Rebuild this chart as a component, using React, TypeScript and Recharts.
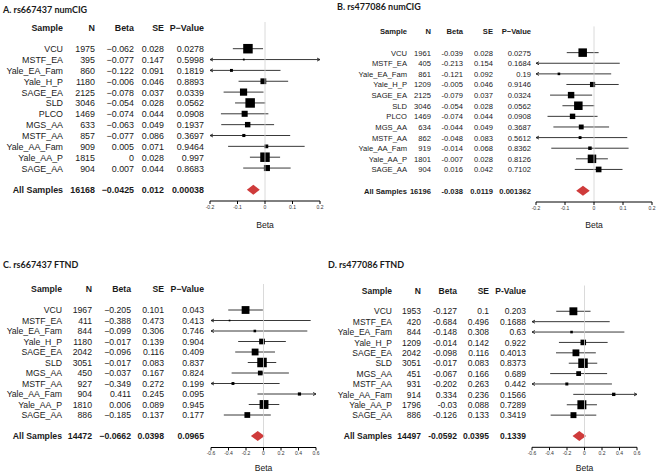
import React from "react";
import {
  ComposedChart,
  Bar,
  XAxis,
  YAxis,
  ReferenceLine,
} from "recharts";

// study names
const namesNumCig = [
  "VCU", "MSTF_EA", "Yale_EA_Fam", "Yale_H_P", "SAGE_EA", "SLD", "PLCO",
  "MGS_AA", "MSTF_AA", "Yale_AA_Fam", "Yale_AA_P", "SAGE_AA",
];
const namesFtnd = [
  "VCU", "MSTF_EA", "Yale_EA_Fam", "Yale_H_P", "SAGE_EA", "SLD",
  "MGS_AA", "MSTF_AA", "Yale_AA_Fam", "Yale_AA_P", "SAGE_AA",
];

// A. rs667437 numCIG
const aN = [1975, 395, 860, 1180, 2125, 3046, 1469, 633, 857, 909, 1815, 904];
const aBeta = [-0.062, -0.077, -0.122, -0.006, -0.078, -0.054, -0.074, -0.063, -0.077, 0.005, 0, 0.007];
const aSe = [0.028, 0.147, 0.091, 0.046, 0.037, 0.028, 0.044, 0.049, 0.086, 0.071, 0.028, 0.044];
const aP = [0.0278, 0.5998, 0.1819, 0.8893, 0.0339, 0.0562, 0.0908, 0.1937, 0.3697, 0.9464, 0.997, 0.8683];
const aAll = [16168, -0.0425, 0.012, 0.00038];

// B. rs477086 numCIG
const bN = [1961, 405, 861, 1209, 2125, 3046, 1469, 634, 862, 919, 1801, 904];
const bBeta = [-0.039, -0.213, -0.121, -0.005, -0.079, -0.054, -0.074, -0.044, -0.048, -0.014, -0.007, 0.016];
const bSe = [0.028, 0.154, 0.092, 0.046, 0.037, 0.028, 0.044, 0.049, 0.083, 0.068, 0.028, 0.042];
const bP = [0.0275, 0.1684, 0.19, 0.9146, 0.0324, 0.0562, 0.0908, 0.3687, 0.5612, 0.8362, 0.8126, 0.7102];
const bAll = [16196, -0.038, 0.0119, 0.001362];

// C. rs667437 FTND
const cN = [1967, 411, 844, 1180, 2042, 3051, 450, 927, 904, 1810, 886];
const cBeta = [-0.205, -0.388, -0.099, -0.017, -0.096, -0.017, -0.037, -0.349, 0.411, 0.006, -0.185];
const cSe = [0.101, 0.473, 0.306, 0.139, 0.116, 0.083, 0.167, 0.272, 0.245, 0.089, 0.137];
const cP = [0.043, 0.413, 0.746, 0.904, 0.409, 0.837, 0.824, 0.199, 0.095, 0.945, 0.177];
const cAll = [14472, -0.0662, 0.0398, 0.0965];

// D. rs477086 FTND
const dN = [1953, 420, 844, 1209, 2042, 3051, 451, 931, 914, 1796, 886];
const dBeta = [-0.127, -0.684, -0.148, -0.014, -0.098, -0.017, -0.067, -0.202, 0.334, -0.03, -0.126];
const dSe = [0.1, 0.496, 0.308, 0.142, 0.116, 0.083, 0.166, 0.263, 0.236, 0.088, 0.133];
const dP = [0.203, 0.1688, 0.63, 0.922, 0.4013, 0.8373, 0.689, 0.442, 0.1566, 0.7289, 0.3419];
const dAll = [14497, -0.0592, 0.0395, 0.1339];

const ticksSmall = [-0.2, -0.1, 0, 0.1, 0.2];
const ticksWide = [-0.6, -0.4, -0.2, 0, 0.2, 0.4, 0.6];

const FONT = "'Liberation Sans', Arial, sans-serif";

function buildRows(names, n, beta, se, p, all, lim) {
  const rows: any[] = [{ key: "hdr", kind: "hdr", ci: null }, { key: "gap1", ci: null }];
  names.forEach((name, i) => {
    const lo = beta[i] - 1.96 * se[i];
    const hi = beta[i] + 1.96 * se[i];
    rows.push({
      key: name,
      kind: "study",
      name,
      n: n[i],
      beta: beta[i],
      se: se[i],
      p: p[i],
      ci: [Math.max(lo, -lim), Math.min(hi, lim)],
      clipLo: lo < -lim,
      clipHi: hi > lim,
    });
  });
  rows.push({ key: "gap2", ci: null });
  rows.push({
    key: "All Samples",
    kind: "all",
    name: "All Samples",
    n: all[0],
    beta: all[1],
    se: all[2],
    p: all[3],
    ci: [all[1] - 1.96 * all[2], all[1] + 1.96 * all[2]],
  });
  return rows;
}

const panels = [
  {
    title: "A. rs667437 numCIG", left: 0, top: 0, titleX: 3, titleY: 4,
    rows: buildRows(namesNumCig, aN, aBeta, aSe, aP, aAll, 0.2),
    minSe: Math.min(...aSe), lim: 0.2, ticks: ticksSmall,
    cols: [63, 95, 134, 164, 204], fs: 8.9, minus: "\u2212", pHead: "P\u2212Value",
    plotLeft: 210, plotW: 110, width: 330, height: 235, mTop: 22, padBottom: 5.4, xH: 30, mBottom: 4,
    maxSide: 9.5, labelOff: 3.5,
  },
  {
    title: "B. rs477086 numCIG", left: 330, top: 0, titleX: 7, titleY: 1,
    rows: buildRows(namesNumCig, bN, bBeta, bSe, bP, bAll, 0.2),
    minSe: Math.min(...bSe), lim: 0.2, ticks: ticksSmall,
    cols: [77, 101, 133, 163, 201], fs: 7.6, minus: "-", pHead: "P\u2212Value",
    plotLeft: 206, plotW: 116, width: 330, height: 235, mTop: 26.4, padBottom: 5.7, xH: 29, mBottom: 4,
    maxSide: 8.5, labelOff: 3.5,
  },
  {
    title: "C. rs667437 FTND", left: 0, top: 240, titleX: 3, titleY: 19,
    rows: buildRows(namesFtnd, cN, cBeta, cSe, cP, cAll, 0.6),
    minSe: Math.min(...cSe), lim: 0.6, ticks: ticksWide,
    cols: [62, 92, 131, 164, 204], fs: 8.7, minus: "\u2212", pHead: "P\u2212Value",
    plotLeft: 211, plotW: 105, width: 330, height: 234, mTop: 44, padBottom: 6, xH: 26.5, mBottom: 0,
    maxSide: 9.5, labelOff: 3.5,
  },
  {
    title: "D. rs477086 FTND", left: 330, top: 240, titleX: -2, titleY: 19,
    rows: buildRows(namesFtnd, dN, dBeta, dSe, dP, dAll, 0.6),
    minSe: Math.min(...dSe), lim: 0.6, ticks: ticksWide,
    cols: [62, 91, 127, 159, 196], fs: 8.5, minus: "-", pHead: "P-Value",
    plotLeft: 202, plotW: 105, width: 330, height: 234, mTop: 45.5, padBottom: 6, xH: 26.7, mBottom: 0,
    maxSide: 9.5, labelOff: 3.5,
  },
];

function ForestShape(props) {
  const { x, y, width, height, payload, cfg } = props;
  if (!payload || !payload.kind || !payload.ci) return null;
  const cy = y + height / 2;
  const [lo, hi] = payload.ci;
  const px = (v) => x + ((v - lo) / (hi - lo)) * width;
  if (payload.kind === "all") {
    const bx = px(payload.beta);
    return (
      <polygon
        points={`${x},${cy} ${bx},${cy - 5} ${x + width},${cy} ${bx},${cy + 5}`}
        fill="#CF3B3B"
      />
    );
  }
  // box area follows study weight
  const side = (cfg.maxSide * cfg.minSe) / payload.se;
  const inRange = payload.beta >= -cfg.lim && payload.beta <= cfg.lim;
  const bx = inRange ? px(payload.beta) : 0;
  return (
    <g>
      <line x1={x} x2={x + width} y1={cy} y2={cy} stroke="#222" strokeWidth={0.9} />
      {payload.clipLo && (
        <polyline
          points={`${x + 3},${cy - 1.5} ${x},${cy} ${x + 3},${cy + 1.5}`}
          fill="none"
          stroke="#222"
          strokeWidth={0.9}
        />
      )}
      {payload.clipHi && (
        <polyline
          points={`${x + width - 3},${cy - 1.5} ${x + width},${cy} ${x + width - 3},${cy + 1.5}`}
          fill="none"
          stroke="#222"
          strokeWidth={0.9}
        />
      )}
      {inRange && (
        <rect x={bx - side / 2} y={cy - side / 2} width={side} height={side} fill="#000" />
      )}
    </g>
  );
}

function RowTick(props) {
  const { y, payload, cfg } = props;
  const row = cfg.rows.find((r) => r.key === payload.value);
  if (!row || !row.kind) return null;
  const fmt = (v) => String(v).replace("-", cfg.minus);
  let cells: string[];
  let bold = false;
  if (row.kind === "hdr") {
    cells = ["Sample", "N", "Beta", "SE", cfg.pHead];
    bold = true;
  } else {
    cells = [row.name, String(row.n), fmt(row.beta), fmt(row.se), fmt(row.p)];
    bold = row.kind === "all";
  }
  return (
    <g>
      {cells.map((c, i) => (
        <text
          key={i}
          x={cfg.cols[i]}
          y={y}
          dy="0.35em"
          textAnchor="end"
          fontSize={cfg.fs}
          fontFamily={FONT}
          fontWeight={bold ? 700 : 400}
          fill="#1a1a1a"
        >
          {c}
        </text>
      ))}
    </g>
  );
}

function Panel({ cfg }) {
  return (
    <div style={{ position: "absolute", left: cfg.left, top: cfg.top, width: cfg.width, height: cfg.height }}>
      <div
        style={{
          position: "absolute",
          left: cfg.titleX,
          top: cfg.titleY,
          fontFamily: "Lato, sans-serif",
          fontWeight: 700,
          fontSize: 9,
          color: "#1a1a1a",
          whiteSpace: "nowrap",
          zIndex: 2,
        }}
      >
        {cfg.title}
      </div>
      <ComposedChart
        width={cfg.width}
        height={cfg.height}
        data={cfg.rows}
        layout="vertical"
        margin={{ top: cfg.mTop, right: cfg.width - cfg.plotLeft - cfg.plotW, left: 0, bottom: cfg.mBottom }}
      >
        <XAxis
          type="number"
          domain={[-cfg.lim, cfg.lim]}
          ticks={cfg.ticks}
          allowDataOverflow
          height={cfg.xH}
          tick={{ fontSize: 5, fill: "#333", fontFamily: FONT }}
          axisLine={{ stroke: "#000" }}
          tickLine={{ stroke: "#000" }}
          tickSize={3}
          tickMargin={1}
          label={{ value: "Beta", position: "insideBottom", offset: cfg.labelOff, fontSize: 8.6, fill: "#1a1a1a", fontFamily: FONT }}
        />
        <YAxis
          type="category"
          dataKey="key"
          width={cfg.plotLeft}
          axisLine={false}
          tickLine={false}
          interval={0}
          padding={{ top: 0, bottom: cfg.padBottom }}
          tick={(p) => <RowTick {...p} cfg={cfg} />}
        />
        <ReferenceLine x={0} stroke="#d0d0d0" strokeWidth={0.8} />
        <Bar
          dataKey="ci"
          barSize={2}
          isAnimationActive={false}
          shape={(p) => <ForestShape {...p} cfg={cfg} />}
        />
      </ComposedChart>
    </div>
  );
}

export default function App() {
  return (
    <div style={{ position: "relative", width: 660, height: 474, background: "#fff", overflow: "hidden" }}>
      <style>{`body{margin:0}`}</style>
      {panels.map((cfg) => (
        <Panel key={cfg.title} cfg={cfg} />
      ))}
    </div>
  );
}
